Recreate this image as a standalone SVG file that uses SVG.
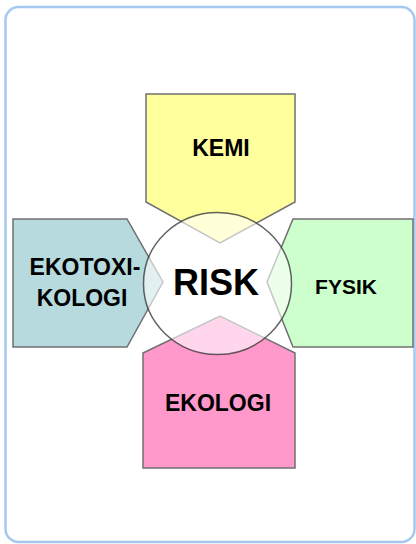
<svg xmlns="http://www.w3.org/2000/svg" width="416" height="544" viewBox="0 0 416 544">
<style>
.shape{stroke:#707070;stroke-width:1.5;stroke-linejoin:miter}
.lbl{font-family:"Liberation Sans",Arial,sans-serif;font-weight:bold;fill:#000;text-anchor:middle}
</style>
<rect x="0" y="0" width="416" height="544" fill="#ffffff"/>
<rect id="frame" x="5.5" y="7" width="409" height="535" rx="13" fill="#ffffff" stroke="#a6c8ee" stroke-width="2.5"/>
<g id="kemi">
<polygon class="shape" points="146,94 295,94 295,202 220,243 146,202" fill="#ffff9e"/>
<text class="lbl" x="221" y="156" font-size="23">KEMI</text>
</g>
<g id="ekotoxikologi">
<polygon class="shape" points="13,219 127,219 163,282 127,347 13,347" fill="#b6dadd"/>
<text class="lbl" x="85" y="275" font-size="23">EKOTOXI-</text>
<text class="lbl" x="82" y="306" font-size="23">KOLOGI</text>
</g>
<g id="fysik">
<polygon class="shape" points="293,219 413,219 413,347 293,347 267,282" fill="#ccffcc"/>
<text class="lbl" x="346" y="294" font-size="21">FYSIK</text>
</g>
<g id="ekologi">
<polygon class="shape" points="143,353 220,316 295,353 295,468 143,468" fill="#ff99cc"/>
<text class="lbl" x="218" y="411" font-size="23">EKOLOGI</text>
</g>
<g id="risk">
<ellipse cx="217.5" cy="283.5" rx="74" ry="71" fill="#ffffff" fill-opacity="0.6" stroke="#3c3c3c" stroke-opacity="0.8" stroke-width="1.5"/>
<text class="lbl" x="216" y="295" font-size="36">RISK</text>
</g>
</svg>
